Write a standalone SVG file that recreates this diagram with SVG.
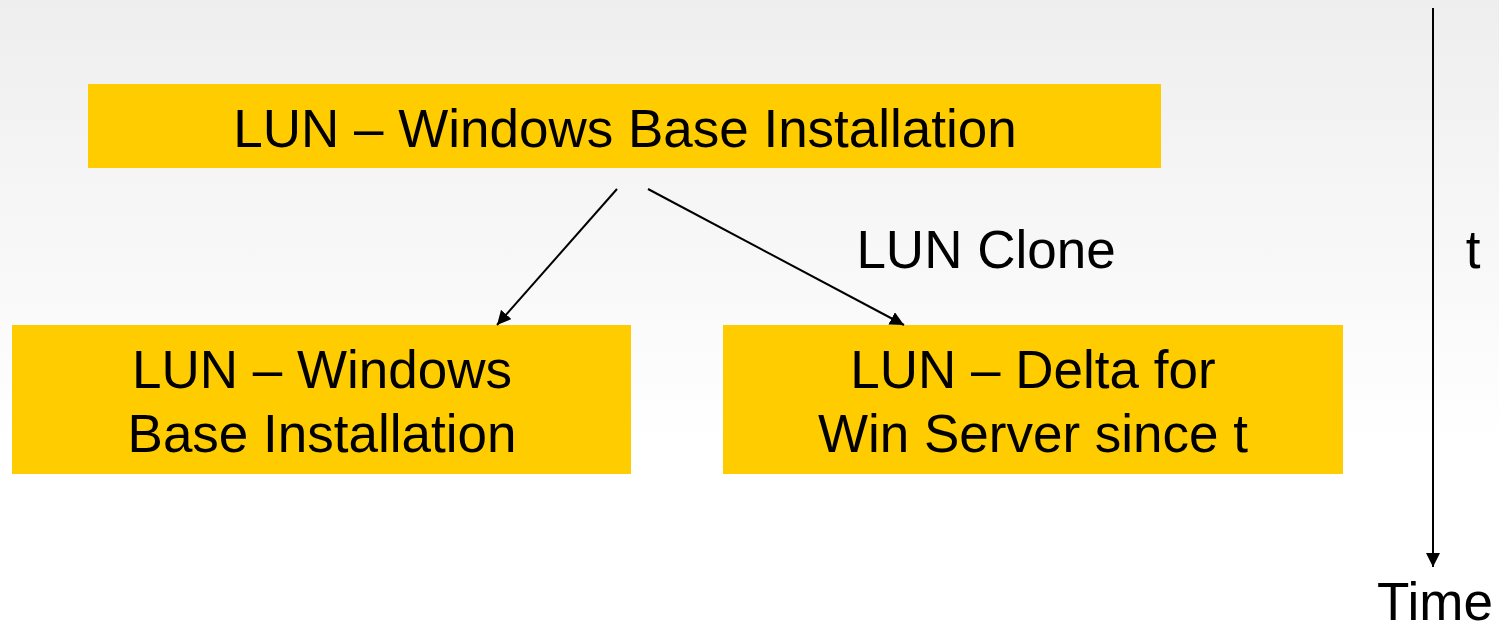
<svg xmlns="http://www.w3.org/2000/svg" width="1499" height="632" viewBox="0 0 1499 632">
<style>
.box{fill:#FFCC00}
.lbl{font-family:"Liberation Sans",Arial,sans-serif;font-size:53px;fill:#000;text-anchor:middle}
.conn{stroke:#000;stroke-width:2;fill:none}
</style>
<defs>
<linearGradient id="bg" x1="0" y1="0" x2="0" y2="1">
<stop offset="0" stop-color="#eeeeee"/>
<stop offset="0.7" stop-color="#ffffff"/>
<stop offset="1" stop-color="#ffffff"/>
</linearGradient>
<marker id="ah" viewBox="0 0 10 10" refX="10" refY="5" markerWidth="7" markerHeight="7" orient="auto" markerUnits="strokeWidth">
<path d="M0,0 L10,5 L0,10 z" fill="#000"/>
</marker>
</defs>
<rect width="1499" height="632" fill="url(#bg)"/>
<g id="top">
<rect class="box" x="88" y="84" width="1073" height="84"/>
<text class="lbl" x="625" y="147">LUN – Windows Base Installation</text>
</g>
<g id="left">
<rect class="box" x="12" y="325" width="619" height="149"/>
<text class="lbl" x="322" y="388">LUN – Windows</text>
<text class="lbl" x="322" y="452">Base Installation</text>
</g>
<g id="right">
<rect class="box" x="723" y="325" width="620" height="149"/>
<text class="lbl" x="1033" y="388">LUN – Delta for</text>
<text class="lbl" x="1033" y="452">Win Server since t</text>
</g>
<g id="connectors">
<line class="conn" x1="617" y1="189" x2="497" y2="325" marker-end="url(#ah)"/>
<line class="conn" x1="648" y1="189" x2="904" y2="325" marker-end="url(#ah)"/>
<line class="conn" x1="1433" y1="8" x2="1433" y2="567" marker-end="url(#ah)"/>
</g>
<g id="labels">
<text class="lbl" x="986" y="268">LUN Clone</text>
<text class="lbl" x="1473" y="268">t</text>
<text class="lbl" x="1435" y="620">Time</text>
</g>
</svg>
